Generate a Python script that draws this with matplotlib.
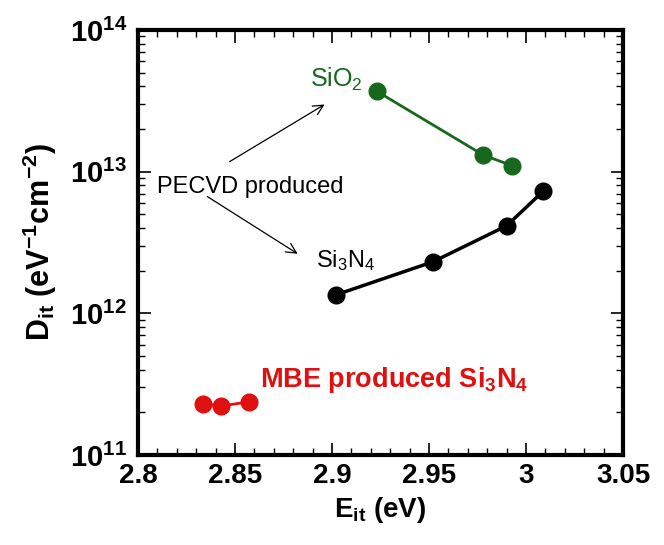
import numpy as np
import matplotlib
matplotlib.use("Agg")
import matplotlib.pyplot as plt
from matplotlib.ticker import MultipleLocator, LogLocator, FixedLocator

plt.rcParams['font.family'] = ['Liberation Sans', 'DejaVu Sans']
plt.rcParams['mathtext.fontset'] = 'custom'
plt.rcParams['mathtext.rm'] = 'Liberation Sans'
plt.rcParams['mathtext.it'] = 'Liberation Sans:italic'
plt.rcParams['mathtext.bf'] = 'Liberation Sans:bold'

# data
sio2_e = [2.923, 2.978, 2.993]
sio2_d = [3.7e13, 1.31e13, 1.10e13]
sin_e = [2.902, 2.952, 2.990, 3.009]
sin_d = [1.35e12, 2.31e12, 4.15e12, 7.3e12]
mbe_e = [2.8335, 2.843, 2.857]
mbe_d = [2.29e11, 2.22e11, 2.37e11]

green = '#17681c'
red = '#e01010'

fig = plt.figure(figsize=(6.64, 5.45), dpi=100)
ax = fig.add_axes([138/664, 1-455/545, 485/664, 425/545])

ax.plot(sio2_e, sio2_d, '-o', color=green, lw=2, ms=12)
ax.plot(sin_e, sin_d, '-o', color='black', lw=2.5, ms=12)
ax.plot(mbe_e, mbe_d, '-o', color=red, lw=2, ms=12)

ax.set_yscale('log')
ax.set_xlim(2.8, 3.05)
ax.set_ylim(1e11, 1e14)

xt = [2.8, 2.85, 2.9, 2.95, 3.0, 3.05]
ax.set_xticks(xt)
ax.set_xticklabels(['2.8', '2.85', '2.9', '2.95', '3', '3.05'])
ax.xaxis.set_minor_locator(MultipleLocator(0.01))
ax.yaxis.set_major_locator(FixedLocator([1e11, 1e12, 1e13, 1e14]))
ax.set_yticklabels([r'$\mathbf{10^{11}}$', r'$\mathbf{10^{12}}$',
                    r'$\mathbf{10^{13}}$', r'$\mathbf{10^{14}}$'])
ax.yaxis.set_minor_locator(LogLocator(base=10, subs=np.arange(2, 10)))
ax.yaxis.set_minor_formatter(matplotlib.ticker.NullFormatter())

ax.tick_params(which='both', direction='in', top=True, right=True)
ax.tick_params(which='major', length=9, width=1.2, labelsize=20, pad=6)
ax.tick_params(axis='y', which='major', labelsize=21, pad=8)
ax.tick_params(which='minor', length=5, width=1)
for lab in ax.get_xticklabels():
    lab.set_fontweight('bold')
for s in ax.spines.values():
    s.set_linewidth(3)

ax.set_xlabel(r'$\mathbf{E_{it}}$ (eV)', fontsize=20, fontweight='bold', labelpad=4)
ax.set_ylabel(r'$\mathbf{D_{it}}$ (eV$^{\mathbf{-1}}$cm$^{\mathbf{-2}}$)',
              fontsize=22, fontweight='bold', labelpad=8)

ax.text(2.8887, 4.5e13, r'SiO$_2$', color=green, fontsize=18, ha='left', va='center')
ax.text(2.810, 7.8e12, 'PECVD produced', color='black', fontsize=17, ha='left', va='center')
ax.text(2.892, 2.35e12, r'Si$_3$N$_4$', color='black', fontsize=17, ha='left', va='center')
ax.text(2.863, 3.4e11, r'MBE produced Si$_\mathbf{3}$N$_\mathbf{4}$', color=red,
        fontsize=19.5, fontweight='bold', ha='left', va='center')

ax.annotate('', xy=(2.8974, 3.05e13), xytext=(2.846, 1.15e13),
            arrowprops=dict(arrowstyle='->', color='black', lw=0.9, mutation_scale=18))
ax.annotate('', xy=(2.8835, 2.57e12), xytext=(2.8345, 6.84e12),
            arrowprops=dict(arrowstyle='->', color='black', lw=0.9, mutation_scale=18))

fig.savefig('out.png', dpi=100)
